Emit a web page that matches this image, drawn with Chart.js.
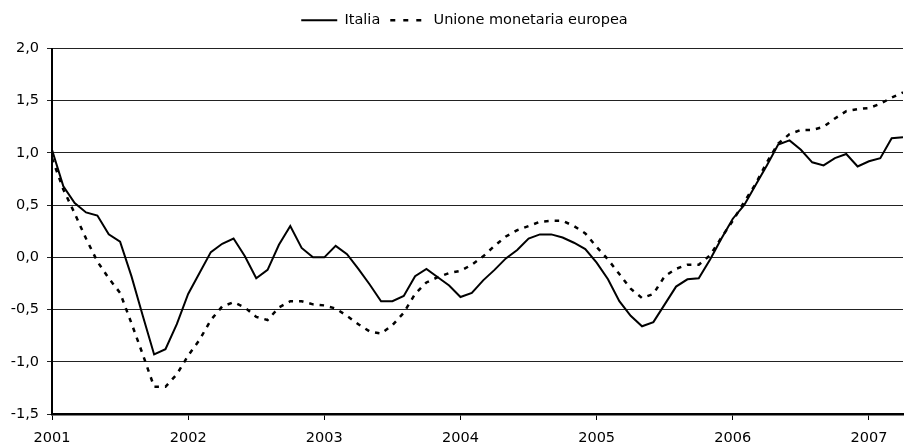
<!DOCTYPE html>
<html>
<head>
<meta charset="utf-8">
<script src="https://cdn.jsdelivr.net/npm/chart.js@4.4.1/dist/chart.umd.min.js"></script>
<style>
html,body{margin:0;padding:0;background:#fff;}
#wrap{width:904px;height:445px;position:relative;}
</style>
</head>
<body>
<div id="wrap"><canvas id="c"></canvas></div>
<script>
// Monthly categories, Jan 2001 - Apr 2007
const months = [
 '2001-01','2001-02','2001-03','2001-04','2001-05','2001-06','2001-07','2001-08','2001-09','2001-10','2001-11','2001-12',
 '2002-01','2002-02','2002-03','2002-04','2002-05','2002-06','2002-07','2002-08','2002-09','2002-10','2002-11','2002-12',
 '2003-01','2003-02','2003-03','2003-04','2003-05','2003-06','2003-07','2003-08','2003-09','2003-10','2003-11','2003-12',
 '2004-01','2004-02','2004-03','2004-04','2004-05','2004-06','2004-07','2004-08','2004-09','2004-10','2004-11','2004-12',
 '2005-01','2005-02','2005-03','2005-04','2005-05','2005-06','2005-07','2005-08','2005-09','2005-10','2005-11','2005-12',
 '2006-01','2006-02','2006-03','2006-04','2006-05','2006-06','2006-07','2006-08','2006-09','2006-10','2006-11','2006-12',
 '2007-01','2007-02','2007-03','2007-04'
];

const italia = [
  1.03, 0.68, 0.52, 0.43, 0.40, 0.22, 0.15, -0.18, -0.56, -0.93, -0.88, -0.64,
 -0.35, -0.15, 0.05, 0.13, 0.18, 0.01, -0.20, -0.12, 0.12, 0.30, 0.09, 0.00,
  0.00, 0.11, 0.03, -0.11, -0.26, -0.42, -0.42, -0.37, -0.18, -0.11, -0.19, -0.27,
 -0.38, -0.34, -0.22, -0.12, -0.01, 0.07, 0.18, 0.22, 0.22, 0.19, 0.14, 0.08,
 -0.05, -0.21, -0.42, -0.56, -0.66, -0.62, -0.45, -0.28, -0.21, -0.20, -0.02, 0.18,
  0.37, 0.50, 0.69, 0.88, 1.08, 1.12, 1.03, 0.91, 0.88, 0.95, 0.99, 0.87,
  0.92, 0.95, 1.14, 1.15
];

const ume = [
  0.95, 0.65, 0.42, 0.18, -0.04, -0.20, -0.34, -0.63, -0.93, -1.24, -1.24, -1.12,
 -0.94, -0.79, -0.60, -0.47, -0.43, -0.48, -0.57, -0.60, -0.48, -0.42, -0.42, -0.45,
 -0.46, -0.49, -0.56, -0.64, -0.71, -0.73, -0.65, -0.53, -0.35, -0.24, -0.19, -0.15,
 -0.13, -0.07, 0.01, 0.11, 0.20, 0.26, 0.30, 0.34, 0.35, 0.35, 0.30, 0.23,
  0.10, -0.02, -0.16, -0.30, -0.39, -0.35, -0.18, -0.11, -0.07, -0.07, 0.02, 0.19,
  0.35, 0.53, 0.70, 0.91, 1.09, 1.18, 1.22, 1.22, 1.25, 1.33, 1.40, 1.42,
  1.43, 1.47, 1.53, 1.58
];

const seriesNames = ['Italia', 'Unione monetaria europea'];
const yearLabels = ['2001','2002','2003','2004','2005','2006','2007'];
const yTicks = [-1.5, -1.0, -0.5, 0.0, 0.5, 1.0, 1.5, 2.0];

// index of each year's first month within the categories
const yearIdx = yearLabels.map(y => months.indexOf(y + '-01'));

Chart.defaults.font.family = "'DejaVu Sans', Verdana, sans-serif";
Chart.defaults.color = '#000';

const legendTweak = {
  id: 'legendTweak',
  beforeLayout(chart) {
    const lg = chart.legend;
    if (lg && !lg._gapPatched) {
      const orig = lg.fit.bind(lg);
      lg.fit = function () { orig(); this.height += 11; };
      lg._gapPatched = true;
    }
  },
  afterLayout(chart) {
    const lg = chart.legend;
    if (lg) { lg.left += 13; lg.right += 13; }
  }
};

new Chart(document.getElementById('c'), {
  type: 'line',
  data: {
    datasets: [
      {
        label: seriesNames[0],
        data: italia.map((v, i) => ({x: i, y: v})),
        borderColor: '#000',
        backgroundColor: '#000',
        borderWidth: 2,
        pointRadius: 0,
        tension: 0,
        fill: false
      },
      {
        label: seriesNames[1],
        data: ume.map((v, i) => ({x: i, y: v})),
        borderColor: '#000',
        backgroundColor: '#000',
        borderWidth: 2.5,
        borderDash: [4.5, 6],
        pointRadius: 0,
        tension: 0,
        fill: false
      }
    ]
  },
  options: {
    responsive: true,
    maintainAspectRatio: false,
    animation: false,
    events: [],
    layout: { padding: { top: 3, right: 1, left: 0, bottom: 0 } },
    plugins: {
      tooltip: { enabled: false },
      legend: {
        position: 'top',
        labels: {
          font: { size: 14.5 },
          color: '#000',
          usePointStyle: true,
          pointStyle: 'line',
          pointStyleWidth: 36,
          padding: 10,
          generateLabels(chart) {
            const items = Chart.defaults.plugins.legend.labels.generateLabels(chart);
            items.forEach((it, i) => {
              it.lineWidth = i === 1 ? 2.5 : 2;
              it.pointStyle = 'line';
              it.lineDash = i === 1 ? [5, 8] : [];
            });
            return items;
          }
        }
      }
    },
    scales: {
      x: {
        type: 'linear',
        min: 0,
        max: months.length - 1,
        afterBuildTicks(scale) { scale.ticks = yearIdx.map(v => ({ value: v })); },
        afterFit(scale) { scale.height = 31; },
        grid: { drawOnChartArea: false, drawTicks: true, tickLength: 6, color: '#000', lineWidth: 1 },
        border: { display: true, color: '#000', width: 2.5 },
        ticks: {
          autoSkip: false,
          maxRotation: 0,
          padding: 10,
          font: { size: 14.5 },
          callback(v) { const k = yearIdx.indexOf(v); return k >= 0 ? yearLabels[k] : ''; }
        }
      },
      y: {
        min: -1.5,
        max: 2.0,
        afterBuildTicks(scale) { scale.ticks = yTicks.map(v => ({ value: v })); },
        afterFit(scale) { scale.width = 52; },
        grid: { drawTicks: true, tickLength: 5, color: '#222', lineWidth: 1 },
        border: { display: true, color: '#000', width: 2 },
        ticks: {
          padding: 8,
          font: { size: 14.5 },
          callback(v) { return v.toFixed(1).replace('.', ','); }
        }
      }
    }
  },
  plugins: [legendTweak]
});
</script>
</body>
</html>
